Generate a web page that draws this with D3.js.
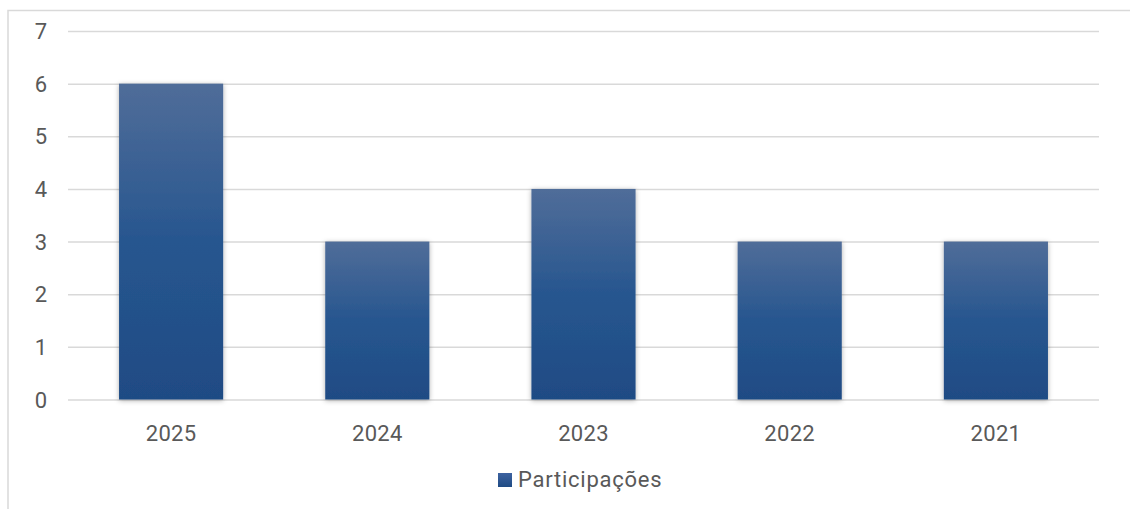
<!DOCTYPE html>
<html>
<head>
<meta charset="utf-8">
<script src="https://cdn.jsdelivr.net/npm/d3@7"></script>
<style>
  html, body { margin: 0; padding: 0; background: #fff; }
  svg { display: block; }
  text { font-family: Roboto, "Noto Sans", sans-serif; fill: #595959; }
</style>
</head>
<body>
<svg id="chart" width="1130" height="509"></svg>
<script>
const categories = ["2025", "2024", "2023", "2022", "2021"];
const values = [6, 3, 4, 3, 3];
const yTicks = [0, 1, 2, 3, 4, 5, 6, 7];
const seriesName = "Participações";

const W = 1130, H = 509;
const svg = d3.select("#chart");

const defs = svg.append("defs");
const grad = defs.append("linearGradient")
  .attr("id", "barGrad").attr("x1", 0).attr("y1", 0).attr("x2", 0).attr("y2", 1);
grad.append("stop").attr("offset", "0%").attr("stop-color", "#506d99");
grad.append("stop").attr("offset", "50%").attr("stop-color", "#27568f");
grad.append("stop").attr("offset", "100%").attr("stop-color", "#1f4b84");

const legGrad = defs.append("linearGradient")
  .attr("id", "legGrad").attr("x1", 0).attr("y1", 0).attr("x2", 0).attr("y2", 1);
legGrad.append("stop").attr("offset", "0%").attr("stop-color", "#3d62a0");
legGrad.append("stop").attr("offset", "100%").attr("stop-color", "#1f4b84");

const shadow = defs.append("filter").attr("id", "shadow")
  .attr("x", "-20%").attr("y", "-10%").attr("width", "140%").attr("height", "120%");
shadow.append("feDropShadow")
  .attr("dx", 0).attr("dy", 1).attr("stdDeviation", 2.6)
  .attr("flood-color", "#000").attr("flood-opacity", 0.32);

// chart frame (partly clipped in reference)
svg.append("path")
  .attr("d", `M8,${H} L8,10.5 L${W},10.5`)
  .attr("fill", "none").attr("stroke", "#d9d9d9").attr("stroke-width", 1.5);

const x = d3.scaleBand().domain(categories).range([68, 1099])
  .paddingInner(0.495).paddingOuter(0.2475);
const y = d3.scaleLinear().domain([0, 7]).range([399.5, 31]);

// gridlines
const grid = svg.append("g")
  .attr("transform", "translate(68,0)")
  .call(d3.axisLeft(y).tickValues(yTicks).tickSize(-(1099 - 68)).tickFormat(""));
grid.select(".domain").remove();
grid.selectAll("line").attr("stroke", "#d9d9d9").attr("stroke-width", 1.5);

// y axis labels
const yAx = svg.append("g")
  .attr("transform", "translate(47,0)")
  .call(d3.axisLeft(y).tickValues(yTicks).tickSize(0).tickPadding(0).tickFormat(d3.format("d")));
yAx.select(".domain").remove();
yAx.selectAll("text")
  .style("font-family", "Roboto, sans-serif").style("font-size", "22px")
  .attr("fill", "#595959").attr("text-anchor", "end").attr("dy", "0.35em");

// bars
svg.append("g").selectAll("rect")
  .data(values)
  .join("rect")
  .attr("x", (d, i) => x(categories[i]))
  .attr("y", d => y(d))
  .attr("width", x.bandwidth())
  .attr("height", d => y(0) - y(d))
  .attr("fill", "url(#barGrad)")
  .attr("filter", "url(#shadow)");

// x axis labels
const xAx = svg.append("g")
  .attr("transform", `translate(0,${y(0)})`)
  .call(d3.axisBottom(x).tickSize(0).tickPadding(0));
xAx.select(".domain").remove();
xAx.selectAll("text")
  .style("font-family", "Roboto, sans-serif").style("font-size", "22px")
  .style("letter-spacing", "0.3px")
  .attr("fill", "#595959").attr("y", 41).attr("dy", 0);

// legend
const leg = svg.append("g").attr("transform", "translate(498,473)");
leg.append("rect").attr("width", 14).attr("height", 14).attr("fill", "url(#legGrad)");
leg.append("text").attr("x", 20).attr("y", 14)
  .style("font-size", "22px").style("letter-spacing", "0.75px")
  .attr("fill", "#595959").text(seriesName);
</script>
</body>
</html>
